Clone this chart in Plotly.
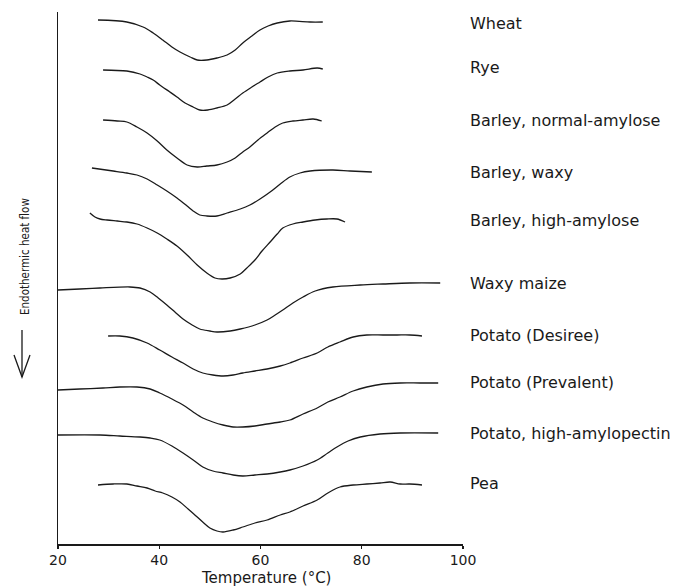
import plotly.graph_objects as go

# ---- Data ----
# Temperature (°C) and heat flow (arbitrary units; curves offset vertically)
names = ["Wheat", "Rye", "Barley, normal-amylose", "Barley, waxy",
         "Barley, high-amylose", "Waxy maize", "Potato (Desiree)",
         "Potato (Prevalent)", "Potato, high-amylopectin", "Pea"]

wheat_T = [27.9, 33.6, 36.8, 38.8, 40.7, 42.5, 44.1, 46.1, 47.5, 49.4, 51.4, 53.4, 55.0, 56.5, 58.3, 59.9, 61.5, 63.3, 65.8, 69.8, 72.3]
wheat_H = [524, 522, 517, 511, 504, 497, 492, 487, 484, 484, 486, 489, 494, 501, 508, 514, 518, 521, 523, 522, 522]

rye_T = [28.9, 33.6, 36.2, 37.6, 38.8, 40.1, 42.1, 43.5, 45.1, 46.7, 48.0, 49.6, 51.4, 53.4, 55.0, 56.5, 58.3, 59.9, 61.5, 63.3, 65.8, 68.4, 71.2, 72.3]
rye_H = [474, 473, 470, 467, 464, 459, 452, 447, 441, 437, 434, 434, 436, 439, 445, 451, 457, 462, 467, 471, 473, 474, 476, 475]

barley_n_T = [28.9, 31.7, 33.6, 35.6, 37.6, 39.6, 41.5, 43.5, 45.5, 47.5, 49.4, 51.4, 53.4, 55.0, 56.5, 57.9, 59.5, 61.3, 62.9, 64.4, 66.4, 68.4, 70.4, 72.1]
barley_n_H = [424, 423, 422, 417, 411, 403, 394, 386, 379, 377, 378, 379, 382, 386, 392, 397, 404, 411, 417, 421, 423, 424, 425, 423]

barley_w_T = [26.7, 30.9, 33.6, 35.6, 37.6, 39.6, 41.5, 43.5, 45.5, 46.7, 48.0, 49.4, 51.4, 53.4, 56.0, 57.9, 59.9, 61.9, 63.9, 65.8, 67.8, 69.8, 74.3, 77.7, 82.0]
barley_w_H = [376, 373, 371, 369, 365, 359, 353, 346, 338, 333, 329, 328, 328, 331, 335, 339, 345, 352, 360, 367, 371, 373, 374, 373, 372]

barley_h_T = [26.3, 27.3, 28.3, 29.7, 31.7, 33.6, 35.6, 37.6, 39.6, 41.5, 43.5, 45.5, 47.5, 49.4, 51.0, 52.4, 54.0, 56.0, 57.3, 58.9, 60.3, 61.9, 63.3, 64.4, 66.4, 68.4, 70.8, 73.1, 75.1, 76.7]
barley_h_H = [331, 327, 325, 324, 323, 322, 320, 316, 311, 305, 298, 289, 279, 271, 266, 265, 266, 270, 276, 284, 293, 302, 310, 316, 320, 322, 324, 325, 325, 322]

maize_T = [20.0, 24.3, 28.3, 34.2, 36.2, 38.2, 39.8, 41.5, 43.1, 44.7, 46.5, 48.0, 50.0, 51.4, 54.0, 56.0, 58.9, 61.3, 62.9, 64.4, 66.4, 68.4, 70.8, 74.3, 79.7, 84.2, 89.5, 95.5]
maize_H = [254, 255, 256, 257, 256, 252, 246, 239, 232, 225, 219, 215, 213, 212, 213, 215, 219, 224, 229, 234, 241, 247, 253, 257, 259, 260, 261, 261]

desiree_T = [29.9, 32.2, 34.8, 37.6, 40.1, 42.5, 44.7, 46.7, 48.6, 50.6, 52.6, 54.6, 56.5, 58.9, 61.3, 63.9, 65.8, 68.4, 71.2, 73.3, 75.7, 78.3, 81.0, 84.2, 87.0, 89.5, 91.9]
desiree_H = [208, 208, 206, 201, 194, 187, 181, 175, 171, 169, 168, 169, 171, 173, 175, 178, 181, 186, 191, 197, 202, 207, 209, 209, 209, 209, 208]

prevalent_T = [20.0, 24.3, 28.9, 32.2, 35.6, 38.2, 40.1, 42.5, 44.7, 46.7, 48.6, 50.6, 52.6, 54.6, 56.5, 58.9, 61.3, 63.9, 65.8, 68.4, 71.2, 73.3, 75.7, 78.3, 81.0, 84.2, 87.6, 91.5, 95.1]
prevalent_H = [154, 155, 156, 157, 157, 155, 151, 145, 139, 132, 126, 122, 119, 117, 117, 118, 120, 122, 124, 130, 136, 142, 147, 153, 157, 160, 161, 161, 161]

amylopectin_T = [20.0, 28.3, 32.2, 36.2, 38.2, 40.1, 42.5, 44.7, 46.7, 48.6, 50.6, 52.6, 54.6, 56.5, 58.9, 61.3, 63.9, 65.8, 68.4, 71.2, 73.3, 75.1, 77.3, 79.7, 83.6, 87.6, 95.1]
amylopectin_H = [109, 109, 108, 107, 106, 104, 98, 91, 84, 77, 73, 71, 69, 68, 69, 70, 72, 74, 78, 84, 91, 97, 103, 107, 110, 111, 111]

pea_T = [27.9, 30.9, 33.6, 35.6, 37.6, 39.2, 40.7, 42.5, 44.1, 45.7, 47.5, 48.8, 50.0, 51.4, 52.6, 54.6, 56.5, 58.9, 61.3, 63.9, 65.8, 68.4, 71.2, 73.3, 75.7, 78.3, 81.0, 83.6, 85.6, 87.6, 89.5, 91.9]
pea_H = [59, 60, 60, 58, 56, 53, 51, 47, 42, 35, 27, 21, 16, 13, 12, 14, 17, 21, 24, 29, 32, 38, 44, 51, 57, 59, 60, 61, 62, 60, 60, 59]

label_H = [521, 477, 424, 372, 324, 261, 209, 162, 111, 61]

x_ticks = [20, 40, 60, 80, 100]

curves = [(wheat_T, wheat_H), (rye_T, rye_H), (barley_n_T, barley_n_H),
          (barley_w_T, barley_w_H), (barley_h_T, barley_h_H), (maize_T, maize_H),
          (desiree_T, desiree_H), (prevalent_T, prevalent_H),
          (amylopectin_T, amylopectin_H), (pea_T, pea_H)]

# ---- Figure ----
W, H = 676, 586
L, R, T, B = 58, 213, 12, 42
pw, ph = W - L - R, H - T - B

def px2paper(px, py):
    return (px - L) / pw, (H - B - py) / ph

INK = "#1a1a1a"
fig = go.Figure()
for name, (tx, hy) in zip(names, curves):
    fig.add_trace(go.Scatter(x=tx, y=hy, mode="lines", name=name,
                             line=dict(color=INK, width=1.3, shape="spline", smoothing=0.9),
                             showlegend=False, hoverinfo="skip"))

annotations = []
lx, _ = px2paper(468, 0)
for name, yv in zip(names, label_H):
    annotations.append(dict(x=lx, xref="paper", y=yv, yref="y", text=name,
                            showarrow=False, xanchor="left", yanchor="middle",
                            font=dict(family="DejaVu Sans", size=16, color=INK)))

tx_, ty_ = px2paper(266, 578)
annotations.append(dict(x=tx_, y=ty_, xref="paper", yref="paper", text="Temperature (°C)",
                        showarrow=False, xanchor="center", yanchor="middle",
                        font=dict(family="DejaVu Sans", size=15, color=INK)))

yx_, yy_ = px2paper(25, 257)
annotations.append(dict(x=yx_, y=yy_, xref="paper", yref="paper", text="Endothermic heat flow",
                        showarrow=False, textangle=-90, xanchor="center", yanchor="middle",
                        font=dict(family="Liberation Sans Narrow, DejaVu Sans Condensed, Liberation Sans",
                                  size=11.5, color=INK)))

# arrow below the y label
a0 = px2paper(22, 330)
a1 = px2paper(22, 377)
v1 = px2paper(14, 355)
v2 = px2paper(30, 355)
shapes = [
    dict(type="line", xref="paper", yref="paper", x0=a0[0], y0=a0[1], x1=a1[0], y1=a1[1],
         line=dict(color=INK, width=1.3)),
    dict(type="path", xref="paper", yref="paper",
         path=f"M {v1[0]},{v1[1]} L {a1[0]},{a1[1]} L {v2[0]},{v2[1]}",
         line=dict(color=INK, width=1.3)),
]

fig.update_layout(
    width=W, height=H,
    margin=dict(l=L, r=R, t=T, b=B, pad=0),
    paper_bgcolor="white", plot_bgcolor="white",
    annotations=annotations, shapes=shapes,
    xaxis=dict(range=[20, 100], tickvals=x_ticks, ticks="outside", ticklen=3,
               tickcolor=INK, tickwidth=1.3,
               showline=True, linecolor=INK, linewidth=1.5,
               showgrid=False, zeroline=False,
               tickfont=dict(family="DejaVu Sans", size=14, color=INK)),
    yaxis=dict(range=[0, 532], showline=True, linecolor=INK, linewidth=1.5,
               showticklabels=False, ticks="", showgrid=False, zeroline=False),
)

fig.write_html("out.html", config={"displayModeBar": False, "staticPlot": True},
               post_script="document.body.style.margin='0px';document.body.style.overflow='hidden';")
